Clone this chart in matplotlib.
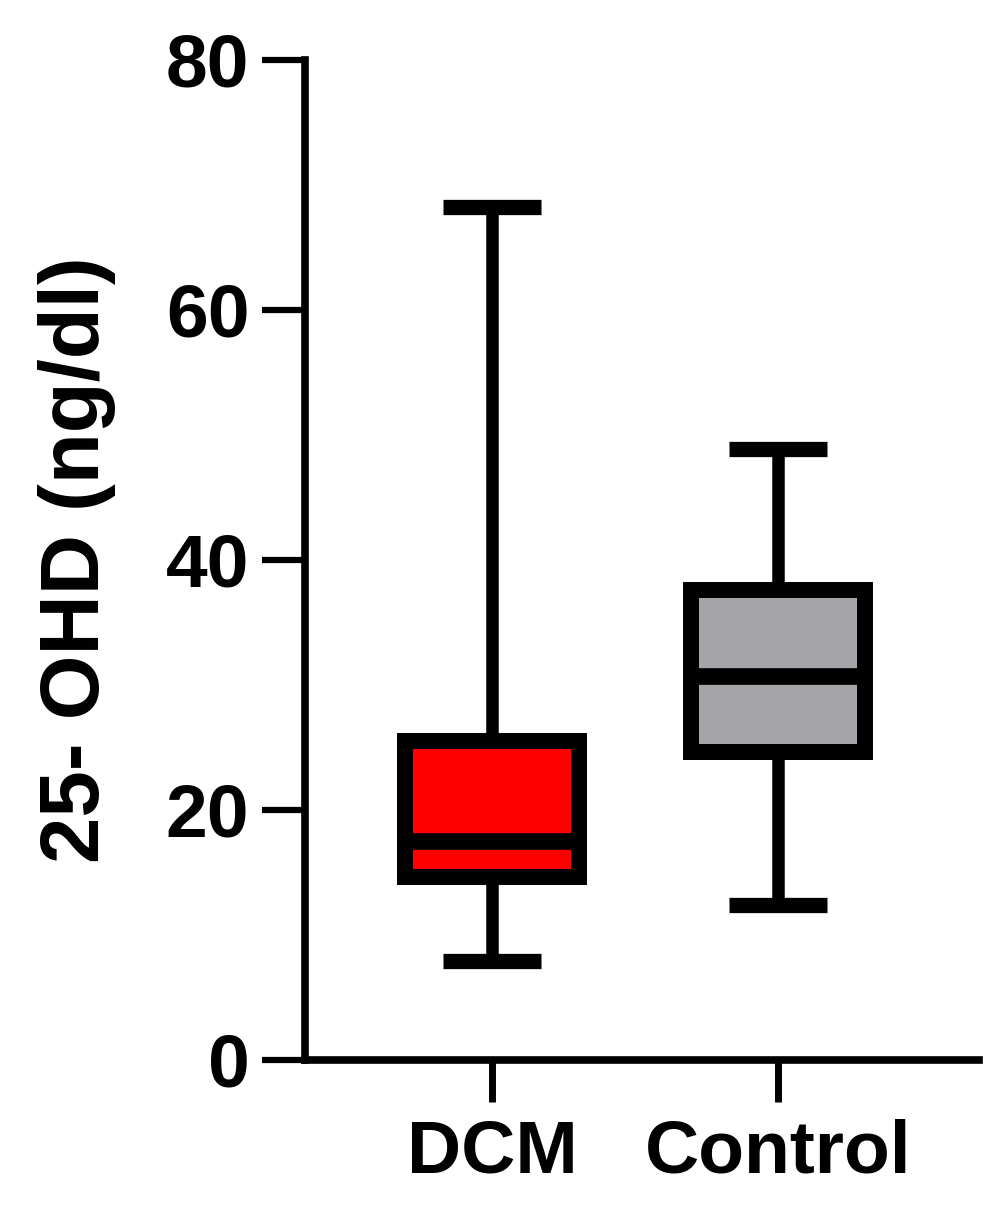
import matplotlib.pyplot as plt

plt.rcParams['font.family'] = ['Liberation Sans', 'DejaVu Sans']
plt.rcParams['font.weight'] = 'bold'

groups = ['DCM', 'Control']
whisker_low = [7.9, 12.4]
q1 = [14.6, 24.6]
median = [17.5, 30.7]
q3 = [25.5, 37.6]
whisker_high = [68.2, 48.9]
box_colors = ['#ff0000', '#a5a4a9']

stats = []
for i, name in enumerate(groups):
    stats.append({'label': name, 'whislo': whisker_low[i], 'q1': q1[i], 'med': median[i],
                  'q3': q3[i], 'whishi': whisker_high[i], 'fliers': []})

fig = plt.figure(figsize=(10, 12.22), dpi=100)
ax = fig.add_axes([0.305, 0.1326, 0.674, 0.8184])

bp = ax.bxp(stats, positions=[1, 2], widths=0.61, capwidths=0.34, patch_artist=True,
            showfliers=False,
            boxprops=dict(linewidth=11.5, edgecolor='black', joinstyle='miter'),
            medianprops=dict(color='black', linewidth=12, solid_capstyle='butt'),
            whiskerprops=dict(color='black', linewidth=9, solid_capstyle='butt'),
            capprops=dict(color='black', linewidth=11, solid_capstyle='butt'))
for patch, c in zip(bp['boxes'], box_colors):
    patch.set_facecolor(c)

ax.set_xlim(0.346, 2.703)
ax.set_ylim(0, 80)
ax.set_yticks([0, 20, 40, 60, 80])

for side in ['top', 'right']:
    ax.spines[side].set_visible(False)
for side in ['left', 'bottom']:
    ax.spines[side].set_linewidth(5.5)

ax.tick_params(axis='y', length=31, width=4.5, labelsize=54, pad=9)
ax.tick_params(axis='x', length=30, width=5, labelsize=54, pad=12)
ax.set_ylabel('25- OHD (ng/dl)', fontsize=60, fontweight='bold', labelpad=36)

fig.savefig('out.png', dpi=100)
